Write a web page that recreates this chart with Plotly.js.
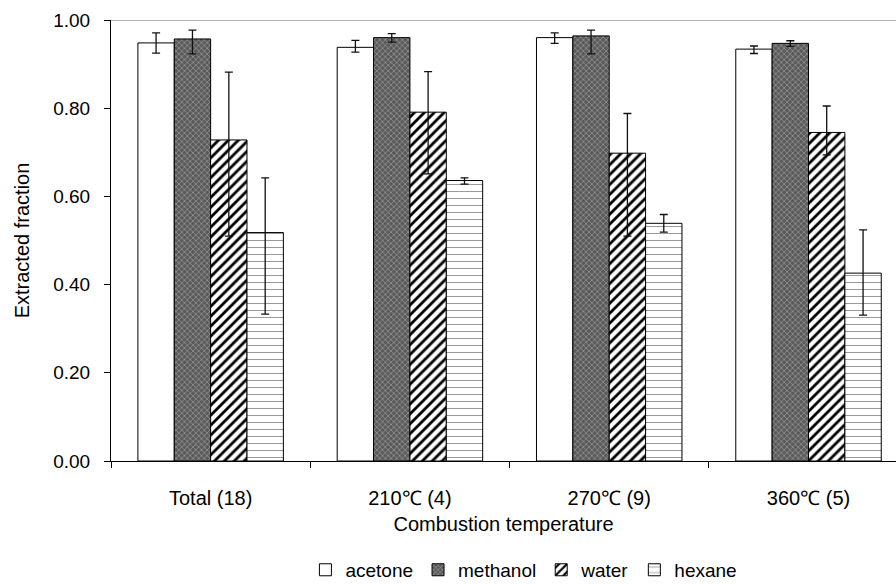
<!DOCTYPE html>
<html>
<head>
<meta charset="utf-8">
<script src="https://cdn.plot.ly/plotly-3.0.1.min.js"></script>
<style>html,body{margin:0;padding:0;overflow:hidden;background:#fff;}#chart{width:896px;height:584px;}</style>
</head>
<body>
<div id="chart"></div>
<script>
const categories = ["Total (18)", "210\u2103 (4)", "270\u2103 (9)", "360\u2103 (5)"];
const seriesNames = ["acetone", "methanol", "water", "hexane"];

const acetone = [0.948, 0.938, 0.960, 0.934];
const acetoneErrPlus = [0.023, 0.016, 0.011, 0.007];
const acetoneErrMinus = [0.023, 0.011, 0.013, 0.010];

const methanol = [0.957, 0.960, 0.964, 0.947];
const methanolErrPlus = [0.020, 0.009, 0.013, 0.006];
const methanolErrMinus = [0.034, 0.010, 0.041, 0.007];

const water = [0.728, 0.791, 0.698, 0.745];
const waterErrPlus = [0.154, 0.092, 0.090, 0.060];
const waterErrMinus = [0.218, 0.140, 0.188, 0.051];

const hexane = [0.518, 0.636, 0.539, 0.426];
const hexaneErrPlus = [0.124, 0.006, 0.020, 0.098];
const hexaneErrMinus = [0.185, 0.008, 0.020, 0.095];

const values = [acetone, methanol, water, hexane];
const errPlus = [acetoneErrPlus, methanolErrPlus, waterErrPlus, hexaneErrPlus];
const errMinus = [acetoneErrMinus, methanolErrMinus, waterErrMinus, hexaneErrMinus];

const markers = [
  {color: "#ffffff", line: {color: "#000", width: 1}},
  {color: "#6a6a6a", line: {color: "#000", width: 1},
   pattern: {shape: "x", bgcolor: "#5a5a5a", fgcolor: "#b0b0b0", size: 4, solidity: 0.25, fillmode: "replace"}},
  {color: "#ffffff", line: {color: "#000", width: 1},
   pattern: {shape: "/", bgcolor: "#ffffff", fgcolor: "#000000", size: 7, solidity: 0.4, fillmode: "replace"}},
  {color: "#ffffff", line: {color: "#000", width: 1},
   pattern: {shape: "-", bgcolor: "#ffffff", fgcolor: "#9a9a9a", size: 7, solidity: 0.15, fillmode: "replace"}}
];

const traces = seriesNames.map((name, i) => ({
  type: "bar",
  name: name,
  x: categories,
  y: values[i],
  marker: markers[i],
  error_y: {type: "data", symmetric: false, array: errPlus[i], arrayminus: errMinus[i],
            color: "#111", thickness: 1.3, width: 4}
}));

const layout = {
  width: 896, height: 584,
  margin: {l: 111, r: 0, t: 20, b: 123, autoexpand: false},
  paper_bgcolor: "#fff", plot_bgcolor: "#fff",
  font: {family: "Liberation Sans, Arial, sans-serif", size: 19, color: "#000"},
  barmode: "group",
  bargap: 0.27,
  bargroupgap: 0,
  showlegend: true,
  legend: {orientation: "h", x: 0.526, xanchor: "center", y: -0.247, yanchor: "middle",
           font: {size: 19}, itemwidth: 30, tracegroupgap: 0},
  xaxis: {
    type: "category",
    automargin: false,
    range: [-0.5, 3.439],
    showline: true, linecolor: "#000", linewidth: 1,
    ticks: "outside", tickson: "boundaries", ticklen: 6, tickcolor: "#000",
    ticklabelstandoff: 19,
    tickfont: {size: 20},
    showgrid: false, zeroline: false,
    title: {text: "Combustion temperature", font: {size: 20}, standoff: 8}
  },
  yaxis: {
    automargin: false,
    range: [0, 1],
    tickvals: [0, 0.2, 0.4, 0.6, 0.8, 1.0],
    tickformat: ".2f",
    showline: true, linecolor: "#000", linewidth: 1,
    ticks: "outside", ticklen: 6, tickcolor: "#000",
    ticklabelstandoff: 10,
    tickfont: {size: 19},
    showgrid: false, zeroline: false,
    title: {text: "Extracted fraction", font: {size: 20}, standoff: 18}
  },
  shapes: [{type: "line", xref: "paper", yref: "y", x0: 0, x1: 1, y0: 1, y1: 1,
            line: {color: "#b0b0b0", width: 2}, layer: "below"}]
};

Plotly.newPlot("chart", traces, layout, {displayModeBar: false, staticPlot: true});
</script>
</body>
</html>
